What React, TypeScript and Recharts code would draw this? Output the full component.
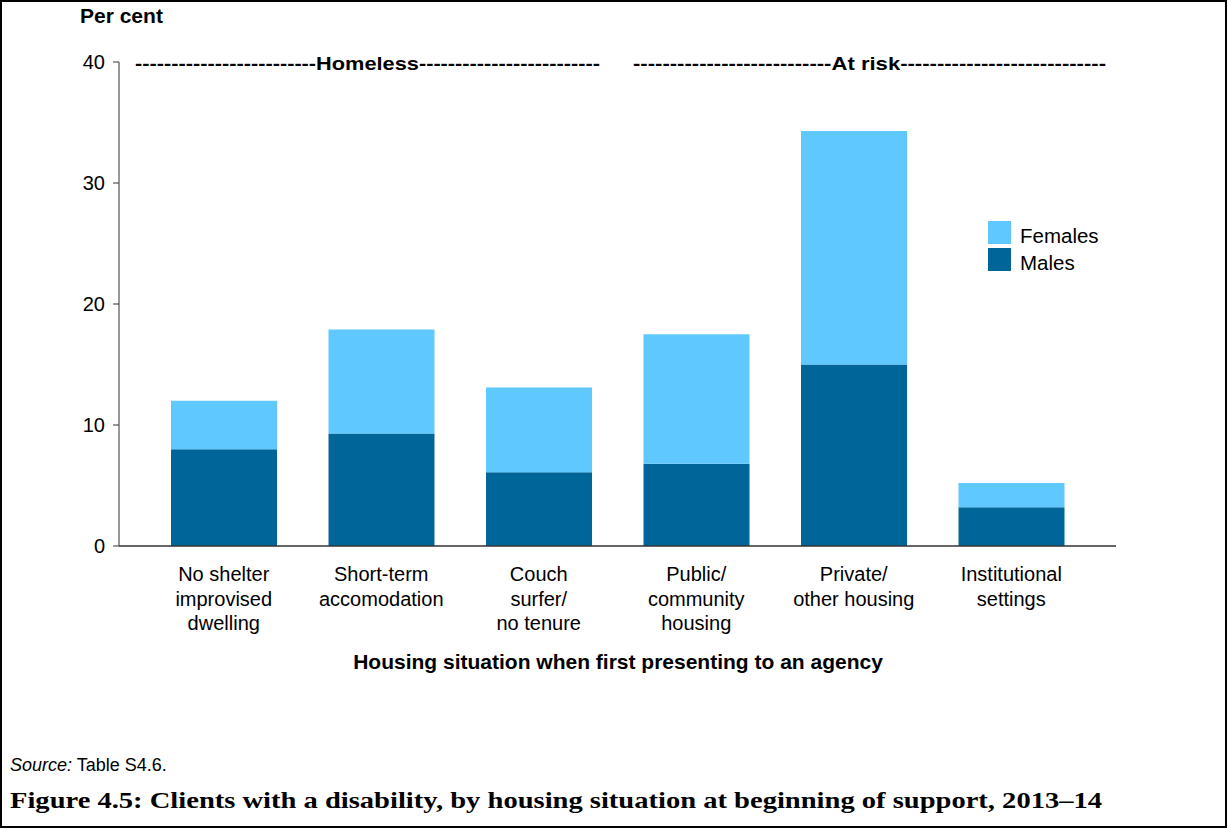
import React from "react";
import { BarChart, Bar, XAxis, YAxis } from "recharts";

const categories = [
  "No shelter improvised dwelling",
  "Short-term accomodation",
  "Couch surfer/ no tenure",
  "Public/ community housing",
  "Private/ other housing",
  "Institutional settings",
];
const tickLabels = [
  ["No shelter", "improvised", "dwelling"],
  ["Short-term", "accomodation"],
  ["Couch", "surfer/", "no tenure"],
  ["Public/", "community", "housing"],
  ["Private/", "other housing"],
  ["Institutional", "settings"],
];
const males = [8.0, 9.3, 6.1, 6.8, 15.0, 3.2];
const females = [4.0, 8.6, 7.0, 10.7, 19.3, 2.0];
const yTicks = [0, 10, 20, 30, 40];
const seriesNames = ["Females", "Males"];
const seriesColors = ["#5FC8FF", "#006699"];

const data = categories.map((c, i) => ({ category: c, Males: males[i], Females: females[i] }));

const FONT = "'Liberation Sans', Arial, sans-serif";

const XTick = (props: any) => {
  const { x, y, payload } = props;
  const lines = tickLabels[payload.index] || [String(payload.value)];
  return (
    <text x={x} y={y} textAnchor="middle" fontSize={20} fill="#000" fontFamily={FONT}>
      {lines.map((l, i) => (
        <tspan key={i} x={x} dy={i === 0 ? 35 : 24.5}>
          {l}
        </tspan>
      ))}
    </text>
  );
};

export default function App() {
  return (
    <div
      style={{
        position: "absolute",
        left: 0,
        top: 0,
        width: 1227,
        height: 828,
        boxSizing: "border-box",
        border: "2px solid #000",
        background: "#fff",
        fontFamily: FONT,
        overflow: "hidden",
      }}
    >
      <div style={{ position: "absolute", left: -2, top: -2 }}>
        <BarChart
          width={1228}
          height={700}
          data={data}
          margin={{ top: 62, right: 112, bottom: 0, left: 0 }}
          barSize={106}
        >
          <XAxis
            dataKey="category"
            height={154}
            tickLine={false}
            tickSize={0}
            tickMargin={0}
            tick={<XTick />}
            interval={0}
            padding={{ left: 26, right: 26 }}
            axisLine={{ stroke: "#333", strokeWidth: 1.5 }}
          />
          <YAxis
            width={119}
            domain={[0, 40]}
            ticks={yTicks}
            interval={0}
            tickSize={6}
            tickMargin={8}
            axisLine={{ stroke: "#333", strokeWidth: 1 }}
            tickLine={{ stroke: "#333" }}
            tick={{ fill: "#000", fontSize: 20, fontFamily: FONT }}
          />
          <Bar dataKey="Males" stackId="a" fill={seriesColors[1]} isAnimationActive={false} />
          <Bar dataKey="Females" stackId="a" fill={seriesColors[0]} isAnimationActive={false} />
        </BarChart>
      </div>
      <svg
        width={1228}
        height={828}
        style={{ position: "absolute", left: -2, top: -2, pointerEvents: "none" }}
      >
        <text x={80} y={23} fontSize={21} fontWeight="bold" fontFamily={FONT} fill="#000">
          Per cent
        </text>
        <text
          x={135}
          y={70}
          fontSize={19}
          fontWeight="bold"
          fontFamily={FONT}
          fill="#000"
          textLength={465}
          lengthAdjust="spacingAndGlyphs"
        >
          -------------------------Homeless-------------------------
        </text>
        <text
          x={633}
          y={70}
          fontSize={19}
          fontWeight="bold"
          fontFamily={FONT}
          fill="#000"
          textLength={473}
          lengthAdjust="spacingAndGlyphs"
        >
          ---------------------------At risk----------------------------
        </text>
        <text
          x={618}
          y={669}
          textAnchor="middle"
          fontSize={21}
          fontWeight="bold"
          fontFamily={FONT}
          fill="#000"
        >
          Housing situation when first presenting to an agency
        </text>
        <text x={10} y={771} fontSize={18} fontFamily={FONT} fill="#000">
          <tspan fontStyle="italic">Source:</tspan> Table S4.6.
        </text>
        <text
          x={10}
          y={808}
          fontSize={24}
          fontWeight="bold"
          fontFamily="'Liberation Serif', 'DejaVu Serif', serif"
          fill="#000"
          textLength={1092}
          lengthAdjust="spacingAndGlyphs"
        >
          Figure 4.5: Clients with a disability, by housing situation at beginning of support, 2013–14
        </text>
        {seriesNames.map((n, i) => (
          <g key={n}>
            <rect x={988} y={221 + i * 27} width={23} height={23} fill={seriesColors[i]} />
            <text x={1020} y={243 + i * 27} fontSize={20.5} fontFamily={FONT} fill="#000">
              {n}
            </text>
          </g>
        ))}
      </svg>
    </div>
  );
}
